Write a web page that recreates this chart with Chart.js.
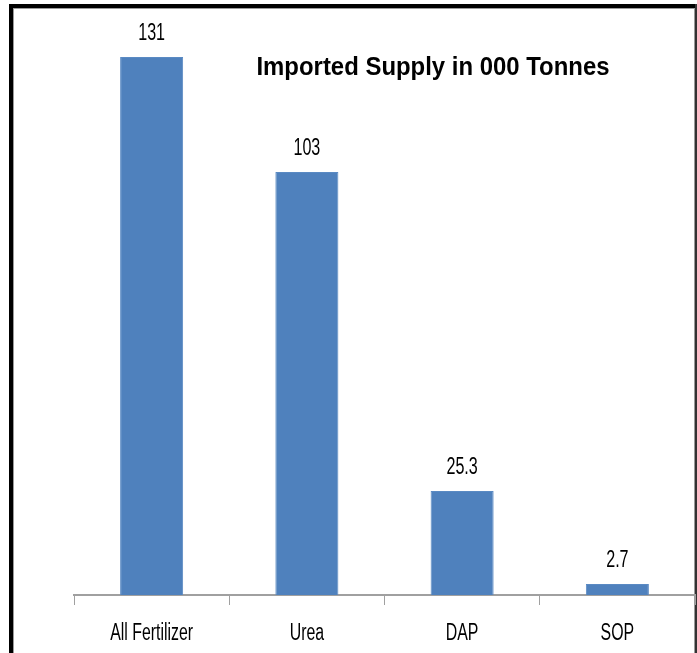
<!DOCTYPE html>
<html>
<head>
<meta charset="utf-8">
<script src="https://cdn.jsdelivr.net/npm/chart.js@4.4.1/dist/chart.umd.min.js"></script>
<style>
  html, body { margin: 0; padding: 0; background: #fff; }
  body { width: 697px; height: 653px; position: relative; overflow: hidden; }
  .frame {
    position: absolute; left: 9px; top: 4px; width: 700px; height: 700px;
    border-left: 4px solid #000; border-top: 4px solid #000;
    box-sizing: border-box;
  }
  .inner {
    position: absolute; left: 13px; top: 8px; width: 682px; height: 700px;
    border-left: 1px solid #9a9a9a; border-top: 1px solid #9a9a9a; border-right: 1px solid #9a9a9a;
    box-sizing: border-box;
  }
  .rightEdge { position: absolute; left: 695px; top: 4px; width: 2px; height: 700px; background: #333; }
  #wrap { position: absolute; left: 0; top: 0; width: 697px; height: 661px; }
</style>
</head>
<body>
<div class="frame"></div>
<div class="inner"></div>
<div class="rightEdge"></div>
<div id="wrap"><canvas id="supplyChart"></canvas></div>
<script>
const categories = ['All Fertilizer', 'Urea', 'DAP', 'SOP'];
const supplyValues = [131, 103, 25.3, 2.7];
const valueLabels = ['131', '103', '25.3', '2.7'];
const chartTitle = 'Imported Supply in 000 Tonnes';

const ctx = document.getElementById('supplyChart').getContext('2d');

// texto estreito (a fonte original é condensada)
function narrowText(c, text, x, y, size, squeeze, weight) {
    c.save();
    c.translate(x, y);
    c.scale(squeeze, 1);
    c.font = (weight || '') + ' ' + size + 'px "Liberation Sans", Arial, sans-serif';
    c.textAlign = 'center';
    c.textBaseline = 'alphabetic';
    c.fillStyle = '#000';
    c.fillText(text, 0, 0);
    c.restore();
}

const labelPlugin = {
    id: 'labelPlugin',
    afterDraw(chart) {
        const c = chart.ctx;
        const meta = chart.getDatasetMeta(0);
        const xScale = chart.scales.x;
        meta.data.forEach((bar, i) => {
            narrowText(c, valueLabels[i], bar.x, bar.y - 17, 23, 0.7);
        });
        categories.forEach((cat, i) => {
            narrowText(c, cat, xScale.getPixelForTick(i), 640, 23, 0.69);
        });
        narrowText(c, chartTitle, 433, 75, 26, 0.92, 'bold');
    }
};

const chart = new Chart(ctx, {
    type: 'bar',
    data: {
        labels: categories,
        datasets: [{
            data: supplyValues,
            backgroundColor: '#4F81BD',
            borderColor: '#5a8ac3',
            borderWidth: 1,
            barPercentage: 0.406,
            categoryPercentage: 1
        }]
    },
    options: {
        responsive: true,
        maintainAspectRatio: false,
        animation: false,
        layout: { padding: { left: 74, right: 2, top: 20, bottom: 0 } },
        plugins: {
            legend: { display: false },
            tooltip: { enabled: false },
            title: { display: false }
        },
        scales: {
            x: {
                offset: true,
                grid: {
                    offset: true,
                    drawOnChartArea: false,
                    drawTicks: true,
                    tickLength: 10,
                    color: '#a0a0a0'
                },
                border: { color: '#a0a0a0', width: 2 },
                ticks: {
                    color: 'rgba(0,0,0,0)', // desenhados pelo plugin
                    padding: 16,
                    font: { family: '"Liberation Sans", sans-serif', size: 20 }
                }
            },
            y: {
                display: false,
                min: 0,
                max: 140
            }
        }
    },
    plugins: [labelPlugin]
});
</script>
</body>
</html>
